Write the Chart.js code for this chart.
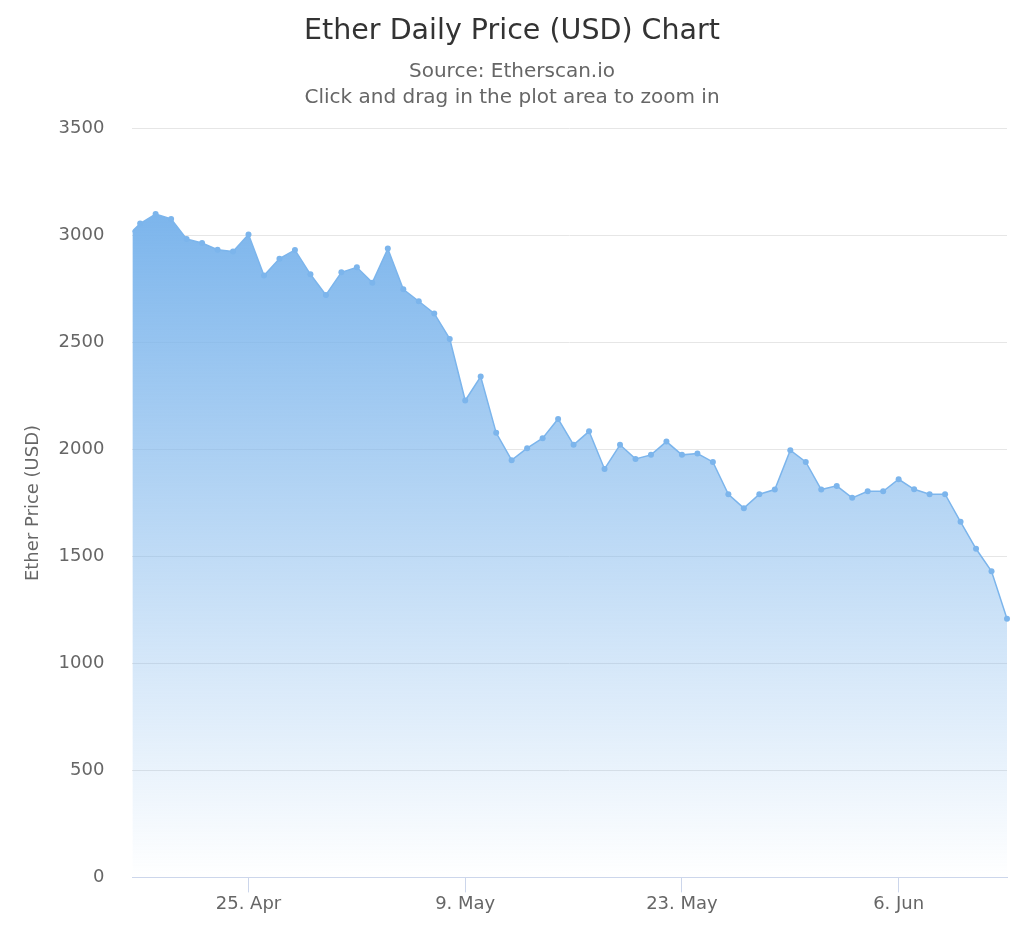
<!DOCTYPE html>
<html>
<head>
<meta charset="utf-8">
<script src="https://cdn.jsdelivr.net/npm/chart.js@4"></script>
<style>
  html, body { margin: 0; padding: 0; background: #ffffff; }
  #wrap { position: relative; width: 1024px; height: 939px; }
</style>
</head>
<body>
<div id="wrap"><canvas id="c"></canvas></div>
<script>
// ---- data ----
const dates = [
  '17. Apr','18. Apr','19. Apr','20. Apr','21. Apr','22. Apr','23. Apr','24. Apr','25. Apr','26. Apr',
  '27. Apr','28. Apr','29. Apr','30. Apr',
  '1. May','2. May','3. May','4. May','5. May','6. May','7. May','8. May','9. May','10. May',
  '11. May','12. May','13. May','14. May','15. May','16. May','17. May','18. May','19. May','20. May',
  '21. May','22. May','23. May','24. May','25. May','26. May','27. May','28. May','29. May','30. May','31. May',
  '1. Jun','2. Jun','3. Jun','4. Jun','5. Jun','6. Jun','7. Jun','8. Jun','9. Jun','10. Jun',
  '11. Jun','12. Jun','13. Jun'
];
const prices = [
  2985, 3056, 3101, 3078, 2984, 2965, 2934, 2925, 3005, 2813,
  2892, 2933, 2819, 2722,
  2828, 2852, 2780, 2939, 2749, 2693, 2636, 2517, 2229, 2341,
  2078, 1950, 2006, 2053, 2143, 2022, 2085, 1909, 2022, 1956,
  1975, 2037, 1975, 1981, 1942, 1791, 1726, 1791, 1813, 1997, 1942,
  1813, 1830, 1774, 1805, 1805, 1861, 1814, 1791, 1791, 1662,
  1536, 1431, 1209
];
const xTickLabels = ['25. Apr', '9. May', '23. May', '6. Jun'];
const yTicks = [0, 500, 1000, 1500, 2000, 2500, 3000, 3500];
const titleText = 'Ether Daily Price (USD) Chart';
const subtitleLines = ['Source: Etherscan.io', 'Click and drag in the plot area to zoom in'];
const yTitle = 'Ether Price (USD)';

// ---- chart ----
const FONT = "'DejaVu Sans', 'Lucida Grande', sans-serif";
const points = prices.map((v, i) => ({ x: i, y: v }));

new Chart(document.getElementById('c'), {
  type: 'line',
  data: {
    datasets: [{
      label: 'Ether Price',
      data: points,
      borderColor: '#7cb5ec',
      borderWidth: 1.5,
      pointRadius: 3,
      pointBackgroundColor: '#7cb5ec',
      pointBorderWidth: 0,
      tension: 0,
      fill: 'origin',
      clip: { left: 0, top: 10, right: 6, bottom: 0 },
      backgroundColor: (ctx) => {
        const chart = ctx.chart;
        const area = chart.chartArea;
        if (!area) return 'rgba(124,181,236,0.5)';
        const top = chart.scales.y.getPixelForValue(Math.max(...prices));
        const g = chart.ctx.createLinearGradient(0, top, 0, area.bottom);
        g.addColorStop(0, 'rgba(124,181,236,1)');
        g.addColorStop(1, 'rgba(124,181,236,0)');
        return g;
      }
    }]
  },
  options: {
    responsive: true,
    maintainAspectRatio: false,
    animation: false,
    events: [],
    layout: { padding: { left: 17, right: 17, top: 0, bottom: 23 } },
    plugins: {
      legend: { display: false },
      tooltip: { enabled: false },
      title: {
        display: true,
        text: titleText,
        color: '#333333',
        font: { family: FONT, size: 28.5, weight: 'normal', lineHeight: 1.2 },
        padding: { top: 14.2, bottom: 11 }
      },
      subtitle: {
        display: true,
        text: subtitleLines,
        color: '#666666',
        font: { family: FONT, size: 20, weight: 'normal', lineHeight: 1.28 },
        padding: { top: 0, bottom: 18 }
      }
    },
    scales: {
      x: {
        type: 'linear',
        min: 0.5,
        max: dates.length - 1,
        afterBuildTicks: (scale) => {
          scale.ticks = xTickLabels.map(l => ({ value: dates.indexOf(l) }));
        },
        ticks: {
          autoSkip: false,
          maxRotation: 0,
          color: '#666666',
          font: { family: FONT, size: 18 },
          padding: 1,
          callback: (v) => dates[v]
        },
        grid: {
          display: true,
          drawOnChartArea: false,
          drawTicks: true,
          tickLength: 15,
          tickColor: '#ccd6eb',
          color: '#ccd6eb'
        },
        border: { display: true, color: '#ccd6eb', width: 1 }
      },
      y: {
        min: yTicks[0],
        max: yTicks[yTicks.length - 1],
        afterBuildTicks: (scale) => {
          scale.ticks = yTicks.map(v => ({ value: v }));
        },
        ticks: {
          color: '#666666',
          font: { family: FONT, size: 18 },
          padding: 28,
          callback: (v) => String(v)
        },
        grid: { color: '#e6e6e6', lineWidth: 1, drawTicks: false },
        border: { display: false },
        title: {
          display: true,
          text: yTitle,
          color: '#666666',
          font: { family: FONT, size: 18, lineHeight: 1.2 },
          padding: { top: 6, bottom: -14 }
        }
      }
    }
  }
});
</script>
</body>
</html>
